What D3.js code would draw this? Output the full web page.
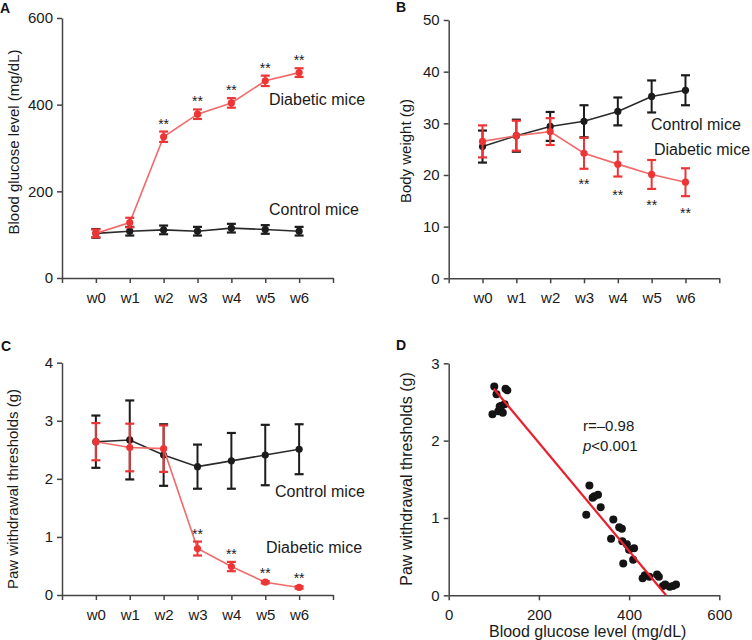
<!DOCTYPE html>
<html>
<head>
<meta charset="utf-8">
<script src="https://cdn.jsdelivr.net/npm/d3@7"></script>
<style>
  body { margin: 0; background: #fff; }
  svg { display: block; font-family: "Liberation Sans", Arial, sans-serif; }
  .axis path, .axis line { stroke: #444; stroke-width: 1.5; }
  .axis text { fill: #1a1a1a; font-size: 15px; }
</style>
</head>
<body>
<svg id="chart" width="752" height="640"></svg>
<script>
// ---------------- data ----------------
const weeks = ["w0", "w1", "w2", "w3", "w4", "w5", "w6"];
const weekIdx = [0, 1, 2, 3, 4, 5, 6];

const glucoseDiabetic = [103, 128, 326, 378, 404, 455, 474];
const glucoseDiabeticErr = [9, 11, 12, 11, 11, 12, 10];
const glucoseControl = [103, 108, 111, 108, 115, 112, 108];
const glucoseControlErr = [10, 10, 10, 10, 10, 10, 10];
const glucoseSig = [2, 3, 4, 5, 6];

const weightControl = [25.5, 27.6, 29.4, 30.4, 32.3, 35.2, 36.4];
const weightControlErr = [3.1, 3.1, 2.8, 3.1, 2.7, 3.1, 2.9];
const weightDiabetic = [26.5, 27.6, 28.4, 24.2, 22.1, 20.1, 18.6];
const weightDiabeticErr = [3.1, 2.9, 2.6, 3.0, 2.4, 2.8, 2.7];
const weightSig = [3, 4, 5, 6];

const pwtControl = [2.64, 2.67, 2.41, 2.21, 2.31, 2.41, 2.51];
const pwtControlErr = [0.45, 0.68, 0.53, 0.38, 0.48, 0.52, 0.43];
const pwtDiabetic = [2.64, 2.54, 2.52, 0.80, 0.49, 0.22, 0.13];
const pwtDiabeticErr = [0.32, 0.41, 0.40, 0.12, 0.08, 0.02, 0.02];
const pwtSig = [3, 4, 5, 6];

const scatterGlucose = [97, 101, 106, 110, 113, 117, 120, 124, 126, 130,
  305, 312, 319, 323, 331, 337, 360, 365, 378, 384, 387, 385, 395, 400, 411, 409,
  430, 435, 445, 462, 466, 475, 480, 490, 497, 504];
const scatterPwt = [2.34, 2.70, 2.60, 2.38, 2.44, 2.45, 2.36, 2.47, 2.67, 2.65,
  1.04, 1.42, 1.26, 1.28, 1.30, 1.14, 0.73, 0.98, 0.88, 0.86, 0.41, 0.70, 0.66, 0.59, 0.61, 0.46,
  0.22, 0.26, 0.24, 0.27, 0.24, 0.12, 0.14, 0.11, 0.12, 0.14];
const regressionGlucose = [100, 482];
const regressionPwt = [2.67, 0];

const glucoseTicks = [0, 200, 400, 600];
const weightTicks = [0, 10, 20, 30, 40, 50];
const pwtTicks = [0, 1, 2, 3, 4];
const pwtTicksD = [0, 1, 2, 3];

// ---------------- styling ----------------
const RED = "#ee3535";
const RED_LINE = "#f06a6a";
const BLACK = "#1c1c1c";
const svg = d3.select("#chart");
const fmt = d => String(d);

function yTitle(g, text, x, y, size) {
  g.append("text").attr("transform", `translate(${x},${y}) rotate(-90)`)
    .attr("text-anchor", "middle").attr("dominant-baseline", "central")
    .style("font-size", size + "px").attr("fill", "#1a1a1a").text(text);
}
function panelLetter(text, x, y) {
  svg.append("text").attr("x", x).attr("y", y).attr("dominant-baseline", "central")
    .style("font-size", "14px").style("font-weight", "bold").attr("fill", "#111").text(text);
}
function label(text, x, y, size) {
  svg.append("text").attr("x", x).attr("y", y).attr("dominant-baseline", "central")
    .style("font-size", size + "px").attr("fill", "#1a1a1a").text(text);
}

function linePanel(cfg) {
  const x = d3.scaleLinear().domain([-1, 7]).range(cfg.xr);
  const y = d3.scaleLinear().domain(cfg.ydom).range(cfg.yr);
  const g = svg.append("g");

  g.append("g").attr("class", "axis").attr("transform", `translate(0,${cfg.yr[0]})`)
    .call(d3.axisBottom(x).tickValues(d3.range(-1, 8)).tickSize(5).tickPadding(9).tickSizeOuter(0)
      .tickFormat(d => (d >= 0 && d <= 6) ? weeks[d] : ""));
  g.append("g").attr("class", "axis").attr("transform", `translate(${cfg.xr[0]},0)`)
    .call(d3.axisLeft(y).tickValues(cfg.yticks).tickFormat(fmt).tickSize(5).tickPadding(4).tickSizeOuter(0));

  const drawSeries = (vals, errs, lineColor, markColor, capW) => {
    const line = d3.line().x((d, i) => x(weekIdx[i])).y(d => y(d));
    g.append("path").datum(vals).attr("d", line).attr("fill", "none")
      .attr("stroke", lineColor).attr("stroke-width", 1.6);
    const eg = g.append("g").selectAll("g").data(vals).join("g");
    eg.append("line").attr("x1", (d, i) => x(weekIdx[i])).attr("x2", (d, i) => x(weekIdx[i]))
      .attr("y1", (d, i) => y(d - errs[i])).attr("y2", (d, i) => y(d + errs[i]))
      .attr("stroke", markColor).attr("stroke-width", 2);
    [-1, 1].forEach(s => {
      eg.append("line").attr("x1", (d, i) => x(weekIdx[i]) - capW).attr("x2", (d, i) => x(weekIdx[i]) + capW)
        .attr("y1", (d, i) => y(d + s * errs[i])).attr("y2", (d, i) => y(d + s * errs[i]))
        .attr("stroke", markColor).attr("stroke-width", 2.2);
    });
    eg.append("circle").attr("cx", (d, i) => x(weekIdx[i])).attr("cy", d => y(d))
      .attr("r", 3.6).attr("fill", markColor);
  };
  drawSeries(cfg.control, cfg.controlErr, "#2a2a2a", BLACK, cfg.capW);
  drawSeries(cfg.diabetic, cfg.diabeticErr, RED_LINE, RED, cfg.capW);

  g.append("g").selectAll("text").data(cfg.sig).join("text")
    .attr("x", d => x(d)).attr("text-anchor", "middle")
    .attr("y", d => cfg.starY(y, d) + 8)
    .style("font-size", "14px").attr("fill", "#1a1a1a").text("**");
  return g;
}

// ---------------- Panel A ----------------
const gA = linePanel({
  xr: [62, 333], yr: [278, 18], ydom: [0, 600], yticks: glucoseTicks,
  control: glucoseControl, controlErr: glucoseControlErr,
  diabetic: glucoseDiabetic, diabeticErr: glucoseDiabeticErr,
  sig: glucoseSig, capW: 4.5,
  starY: (y, i) => y(glucoseDiabetic[i] + glucoseDiabeticErr[i]) - 11
});
yTitle(gA, "Blood glucose level (mg/dL)", 13.5, 142, 15);
panelLetter("A", 0, 8);
label("Diabetic mice", 269, 99, 16);
label("Control mice", 269, 209, 16);

// ---------------- Panel B ----------------
const gB = linePanel({
  xr: [448.7, 719.3], yr: [278.3, 20], ydom: [0, 50], yticks: weightTicks,
  control: weightControl, controlErr: weightControlErr,
  diabetic: weightDiabetic, diabeticErr: weightDiabeticErr,
  sig: weightSig, capW: 4.5,
  starY: (y, i) => y(weightDiabetic[i]) + 28
});
yTitle(gB, "Body weight (g)", 405, 151, 15);
panelLetter("B", 396, 7);
label("Control mice", 651, 124, 16);
label("Diabetic mice", 654, 149, 16);

// ---------------- Panel C ----------------
const gC = linePanel({
  xr: [62, 333], yr: [595, 362.7], ydom: [0, 4], yticks: pwtTicks,
  control: pwtControl, controlErr: pwtControlErr,
  diabetic: pwtDiabetic, diabeticErr: pwtDiabeticErr,
  sig: pwtSig, capW: 4.5,
  starY: (y, i) => y(pwtDiabetic[i] + pwtDiabeticErr[i]) - 11
});
yTitle(gC, "Paw withdrawal thresholds (g)", 12, 489, 15);
panelLetter("C", 1, 346);
label("Control mice", 275, 491, 16);
label("Diabetic mice", 266, 547, 16);

// ---------------- Panel D ----------------
(function () {
  const x = d3.scaleLinear().domain([0, 600]).range([448.7, 719.3]);
  const y = d3.scaleLinear().domain([0, 3]).range([595.3, 363.3]);
  const g = svg.append("g");
  g.append("g").attr("class", "axis").attr("transform", `translate(0,${595.3})`)
    .call(d3.axisBottom(x).tickValues(glucoseTicks).tickFormat(fmt).tickSize(5).tickPadding(9).tickSizeOuter(0));
  g.append("g").attr("class", "axis").attr("transform", `translate(${448.7},0)`)
    .call(d3.axisLeft(y).tickValues(pwtTicksD).tickFormat(fmt).tickSize(5).tickPadding(4).tickSizeOuter(0));

  g.append("g").selectAll("circle").data(scatterGlucose).join("circle")
    .attr("cx", d => x(d)).attr("cy", (d, i) => y(scatterPwt[i]))
    .attr("r", 4).attr("fill", "#141414");

  g.append("line")
    .attr("x1", x(regressionGlucose[0])).attr("y1", y(regressionPwt[0]))
    .attr("x2", x(regressionGlucose[1])).attr("y2", y(regressionPwt[1]))
    .attr("stroke", "#e8202e").attr("stroke-width", 2.2);

  yTitle(g, "Paw withdrawal thresholds (g)", 406, 479, 16);
  g.append("text").attr("x", 587.7).attr("y", 631.5).attr("text-anchor", "middle")
    .attr("dominant-baseline", "central").style("font-size", "16px").attr("fill", "#1a1a1a")
    .text("Blood glucose level (mg/dL)");

  g.append("text").attr("x", 583).attr("y", 425).attr("dominant-baseline", "central")
    .style("font-size", "15px").attr("fill", "#1a1a1a").text("r=–0.98");
  const t2 = g.append("text").attr("x", 583).attr("y", 445).attr("dominant-baseline", "central")
    .style("font-size", "15px").attr("fill", "#1a1a1a");
  t2.append("tspan").style("font-style", "italic").text("p");
  t2.append("tspan").text("<0.001");
})();
panelLetter("D", 396, 345);
</script>
</body>
</html>
